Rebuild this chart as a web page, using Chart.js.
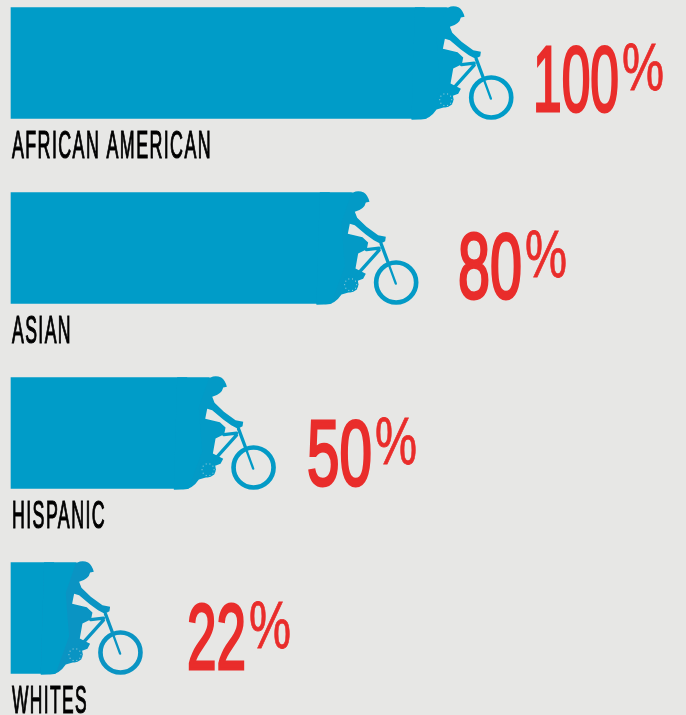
<!DOCTYPE html>
<html>
<head>
<meta charset="utf-8">
<style>
  html, body { margin: 0; padding: 0; background: #e7e7e5; overflow: hidden; }
  canvas { display: block; }
</style>
<script src="https://cdn.jsdelivr.net/npm/chart.js@4"></script>
</head>
<body>
<canvas id="chart" width="686" height="715"></canvas>
<script>
const categories = ["AFRICAN AMERICAN", "ASIAN", "HISPANIC", "WHITES"];
const shares = [100, 80, 50, 22];
const axisMin = 13;
const axisMax = 155;

const barColor = "#009cc8";
const riderColors = ["#009cc8", "#039ac6", "#039ac6", "#0a94c3"];
const red = "#e92d2b";

// text widths per row, the type is very condensed so it gets squeezed to fit
const nameWidths = [200, 60, 94, 76];
const digitLeft = [533, 458, 307, 187];
const digitWidths = [86, 64, 65, 59];
const digitBaseline = [103.5, 105.5, 107.5, 106.5];

const riderBody = new Path2D("M100 22 L200 22 Q215 15 232 22 Q244 30 249 50 L238 52 Q234 72 205 80 " +
    "L212 98 L240 125 L275 150 L298 155 L296 168 L282 176 L262 165 L238 148 L205 120 L190 116 L184 146 " +
    "L228 156 L245 172 L241 192 L215 205 L207 250 L238 266 L230 281 L210 288 L212 312 " +
    "Q190 322 165 328 Q145 358 118 358 L90 358 Z");
// part of the rider's back that blends into the bar
const riderWedge = new Path2D("M100 22 L196 22 L165 113 L170 183 L175 243 L135 355 L90 358 Z");

function drawRider(ctx, endX, top, color) {
    ctx.save();
    // path is in 3x units measured from the first row, endX is the bar end
    ctx.translate(endX - 131 + 88, top - 7.3);
    ctx.scale(1 / 3, 1 / 3);
    ctx.fillStyle = color;
    ctx.strokeStyle = color;
    ctx.fill(riderBody);

    ctx.lineCap = "round";
    ctx.lineWidth = 10;
    ctx.beginPath();
    ctx.moveTo(240, 193);
    ctx.lineTo(278, 189);
    ctx.moveTo(278, 195);
    ctx.lineTo(212, 268);
    ctx.stroke();
    ctx.beginPath();
    ctx.moveTo(284, 176);
    ctx.lineTo(306, 235);
    ctx.stroke();
    ctx.lineWidth = 7;
    ctx.beginPath();
    ctx.moveTo(306, 235);
    ctx.lineTo(328, 295);
    ctx.stroke();

    ctx.lineWidth = 14;
    ctx.beginPath();
    ctx.arc(329, 292, 60, 0, Math.PI * 2);
    ctx.stroke();

    // chainring
    ctx.beginPath();
    ctx.arc(191, 297, 25, 0, Math.PI * 2);
    ctx.fill();
    ctx.fillStyle = "rgba(231,231,229,0.7)";
    for (let i = 0; i < 10; i++) {
        const a = i * Math.PI / 5;
        ctx.fillRect(191 + Math.cos(a) * 18, 297 + Math.sin(a) * 18, 3, 3);
    }

    ctx.fillStyle = barColor;
    ctx.fill(riderWedge);
    ctx.restore();
}

function drawFitted(ctx, text, x, baseline, width, font, color, thicken, spacing) {
    ctx.save();
    ctx.font = font;
    ctx.letterSpacing = spacing || "0px";
    const natural = ctx.measureText(text).width;
    ctx.translate(x, baseline);
    ctx.scale(width / natural, 1);
    ctx.fillStyle = color;
    ctx.textAlign = "left";
    ctx.textBaseline = "alphabetic";
    ctx.fillText(text, 0, 0);
    if (thicken) {
        ctx.strokeStyle = color;
        ctx.lineWidth = thicken;
        ctx.strokeText(text, 0, 0);
    }
    ctx.restore();
}

const riderPlugin = {
    id: "riderPlugin",
    afterDatasetsDraw(chart) {
        const ctx = chart.ctx;
        chart.getDatasetMeta(0).data.forEach((bar, i) => {
            const top = bar.y - bar.height / 2;
            drawRider(ctx, bar.x, top, riderColors[i]);
            drawFitted(ctx, categories[i], 12, top + 150, nameWidths[i], "38px 'Liberation Sans'", "#000", 1.2, "3px");
            const digits = String(shares[i]);
            const base = top + digitBaseline[i];
            drawFitted(ctx, digits, digitLeft[i], base, digitWidths[i], "92px 'Liberation Sans'", red, 3);
            drawFitted(ctx, "%", digitLeft[i] + digitWidths[i] + 3, base - 21, 42, "66px 'Liberation Sans'", red, 0.8);
        });
    }
};

new Chart(document.getElementById("chart"), {
    type: "bar",
    data: {
        labels: categories,
        datasets: [{
            data: shares,
            base: axisMin,
            backgroundColor: barColor,
            barThickness: 111,
            borderWidth: 0,
            clip: false
        }]
    },
    options: {
        indexAxis: "y",
        responsive: false,
        animation: false,
        layout: { padding: { left: 11, right: 0, top: 63, bottom: 97 } },
        plugins: { legend: { display: false }, tooltip: { enabled: false } },
        scales: {
            x: { display: false, min: axisMin, max: axisMax, grid: { display: false } },
            y: { display: false, offset: false, grid: { display: false } }
        }
    },
    plugins: [riderPlugin]
});
</script>
</body>
</html>
